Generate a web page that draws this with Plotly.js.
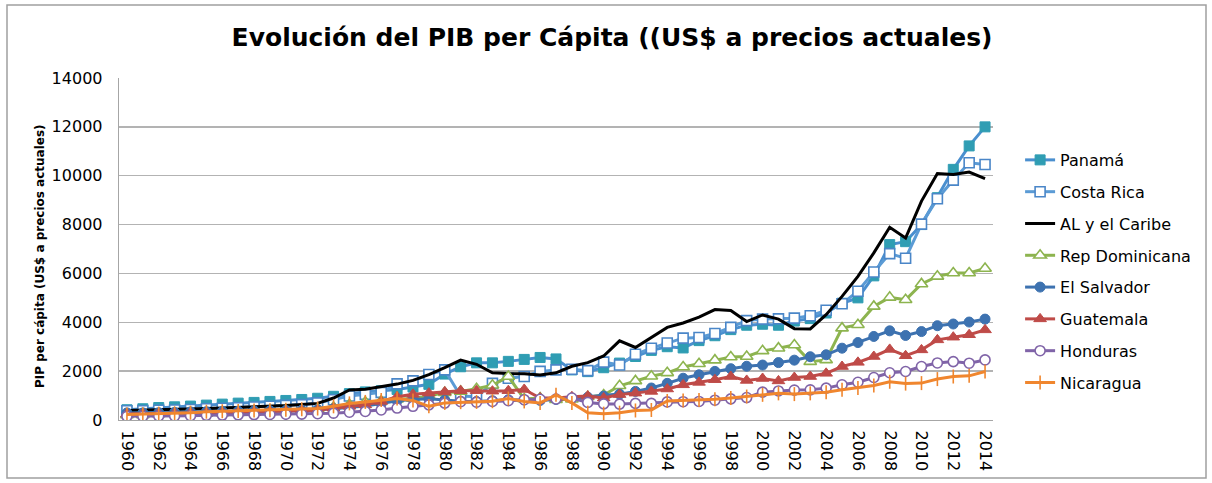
<!DOCTYPE html>
<html>
<head>
<meta charset="utf-8">
<script src="https://cdn.plot.ly/plotly-3.0.1.min.js"></script>
<style>html,body{margin:0;padding:0;background:#fff;}#chart{width:1212px;height:483px;}</style>
</head>
<body>
<div id="chart"></div>
<script>
const years = [];
for (let y = 1960; y <= 2014; y++) years.push(y);

const panama = [420,460,510,540,570,610,650,690,720,760,800,840,890,970,1080,1150,1200,1250,1350,1460,
  1880,2180,2340,2340,2400,2480,2560,2500,2050,1980,2140,2330,2600,2850,3000,2950,3250,3450,3700,3880,
  3920,3880,4050,4150,4380,4780,5000,5900,7180,7300,8000,9100,10260,11220,12000];
const costaRica = [380,380,400,410,430,460,480,500,530,560,600,630,700,830,980,1050,1130,1480,1600,1860,
  2050,980,950,1500,1710,1780,1990,2050,2080,2020,2370,2250,2690,2940,3150,3350,3380,3540,3790,4070,
  4130,4140,4170,4270,4490,4760,5270,6060,6810,6620,8020,9060,9820,10530,10460];
const alCaribe = [390,400,410,430,450,470,490,510,530,560,590,630,680,900,1230,1260,1370,1470,1620,1860,
  2140,2450,2280,1930,1900,1890,1840,1930,2200,2350,2620,3240,2970,3380,3790,3970,4210,4520,4480,4030,
  4300,4130,3740,3730,4310,5060,5880,6840,7890,7450,8960,10090,10050,10150,9880];
const repDominicana = [210,210,250,280,300,270,290,300,310,340,370,400,450,520,630,730,780,850,880,980,
  1120,1170,1280,1420,1780,860,900,830,850,950,1020,1400,1600,1790,1930,2170,2300,2450,2580,2600,
  2830,2940,3070,2390,2460,3760,3900,4650,5020,4920,5570,5880,6020,6020,6200];
const elSalvador = [290,290,300,310,330,340,350,360,370,380,390,400,420,460,520,570,670,790,840,870,
  820,770,760,790,830,820,800,840,890,930,980,1060,1170,1310,1500,1710,1850,1990,2100,2200,
  2250,2350,2450,2590,2670,2940,3170,3420,3650,3460,3620,3860,3930,4010,4130];
const guatemala = [250,255,260,280,290,300,305,310,330,350,370,380,400,480,560,620,760,950,1050,1100,
  1150,1200,1200,1180,1200,1250,900,900,950,980,900,1040,1100,1170,1270,1440,1540,1650,1780,1620,
  1700,1600,1740,1780,1910,2190,2360,2600,2890,2630,2870,3280,3390,3490,3690];
const honduras = [150,150,160,165,175,190,200,210,220,225,235,240,255,280,320,350,410,490,560,620,
  690,750,730,760,790,830,850,860,900,720,660,650,680,680,740,750,760,810,865,920,
  1140,1190,1225,1235,1305,1440,1545,1740,1935,1985,2190,2335,2390,2325,2460];
const nicaragua = [230,240,260,270,300,340,360,370,390,400,420,440,470,560,680,740,820,880,800,560,
  700,730,740,770,880,760,700,1030,700,300,260,300,390,410,780,800,820,850,900,960,
  1030,1090,1060,1090,1140,1240,1310,1410,1565,1490,1510,1675,1780,1808,1988];

const names = ['Panamá','Costa Rica','AL y el Caribe','Rep Dominicana','El Salvador','Guatemala','Honduras','Nicaragua'];
const seriesData = [panama, costaRica, alCaribe, repDominicana, elSalvador, guatemala, honduras, nicaragua];

const styles = [
  {line:{color:'#4a8fcf',width:3}, marker:{symbol:'square',size:10,color:'#2f9db3',line:{color:'#2f9db3',width:1}}, mode:'lines+markers'},
  {line:{color:'#5b9bd5',width:3}, marker:{symbol:'square',size:10,color:'#ffffff',line:{color:'#4a86c8',width:1.6}}, mode:'lines+markers'},
  {line:{color:'#000000',width:3}, mode:'lines'},
  {line:{color:'#8db44f',width:3}, marker:{symbol:'triangle-up',size:11,color:'#ffffff',line:{color:'#8db44f',width:1.6}}, mode:'lines+markers'},
  {line:{color:'#3d72b0',width:3}, marker:{symbol:'circle',size:10,color:'#3d72b0',line:{color:'#3d72b0',width:1}}, mode:'lines+markers'},
  {line:{color:'#bf4b48',width:3}, marker:{symbol:'triangle-up',size:11,color:'#bf4b48',line:{color:'#bf4b48',width:1}}, mode:'lines+markers'},
  {line:{color:'#8064a8',width:3}, marker:{symbol:'circle',size:10,color:'#ffffff',line:{color:'#8064a8',width:1.6}}, mode:'lines+markers'},
  {line:{color:'#f0862e',width:3}, marker:{symbol:'line-ns',size:10,color:'#f0862e',line:{color:'#f0862e',width:1.6}}, mode:'lines+markers'}
];

const traces = names.map((n, i) => Object.assign({
  type:'scatter', x: years, y: seriesData[i], name: n, legendgroup: 'g'+i
}, styles[i]));

const font = 'DejaVu Sans, Liberation Sans, Arial, sans-serif';

const layout = {
  width:1212, height:483,
  margin:{l:119, r:219, t:78, b:63},
  paper_bgcolor:'#ffffff', plot_bgcolor:'#ffffff',
  font:{family:font, size:16, color:'#000000'},
  title:{text:'<b>Evolución del PIB per Cápita ((US$ a precios actuales)</b>', x:0.505, xref:'container', y:0.922, yref:'container', yanchor:'middle', font:{family:font, size:25, color:'#000'}},
  xaxis:{range:[1959.5,2014.5], tickmode:'linear', tick0:1960, dtick:2, tickangle:90,
    showgrid:false, showline:true, linecolor:'#a6a6a6', linewidth:1.3, zeroline:false,
    ticks:'', ticklabelstandoff:6, tickformat:'d', tickfont:{family:font,size:16,color:'#000'}, fixedrange:true},
  yaxis:{range:[0,14000], tickmode:'linear', tick0:0, dtick:2000, tickformat:'d', showgrid:true, gridcolor:'#b3b3b3', gridwidth:1.3,
    showline:true, linecolor:'#a6a6a6', linewidth:1.3, zeroline:false, ticks:'', ticklabelstandoff:12,
    tickfont:{family:font,size:16,color:'#000'}, fixedrange:true},
  legend:{x:1.031, y:0.81, xanchor:'left', yanchor:'top', font:{family:font,size:16,color:'#000'},
    traceorder:'grouped', tracegroupgap:8, bgcolor:'rgba(0,0,0,0)'},
  annotations:[{text:'<b>PIP per cápita (US$ a precios actuales)</b>', textangle:-90, xref:'paper', yref:'paper',
    x:(40-119)/874, y:(420-256)/342, xanchor:'center', yanchor:'middle', showarrow:false, font:{family:font,size:12,color:'#000'}}],
  shapes:[{type:'rect', xref:'paper', yref:'paper', x0:(7-119)/874, x1:(1206-119)/874, y0:(420-478)/342, y1:(420-5)/342,
    line:{color:'#a0a0a0', width:1.5}, fillcolor:'rgba(0,0,0,0)', layer:'below'}],
  showlegend:true
};

Plotly.newPlot('chart', traces, layout, {displayModeBar:false, staticPlot:true});
</script>
</body>
</html>
